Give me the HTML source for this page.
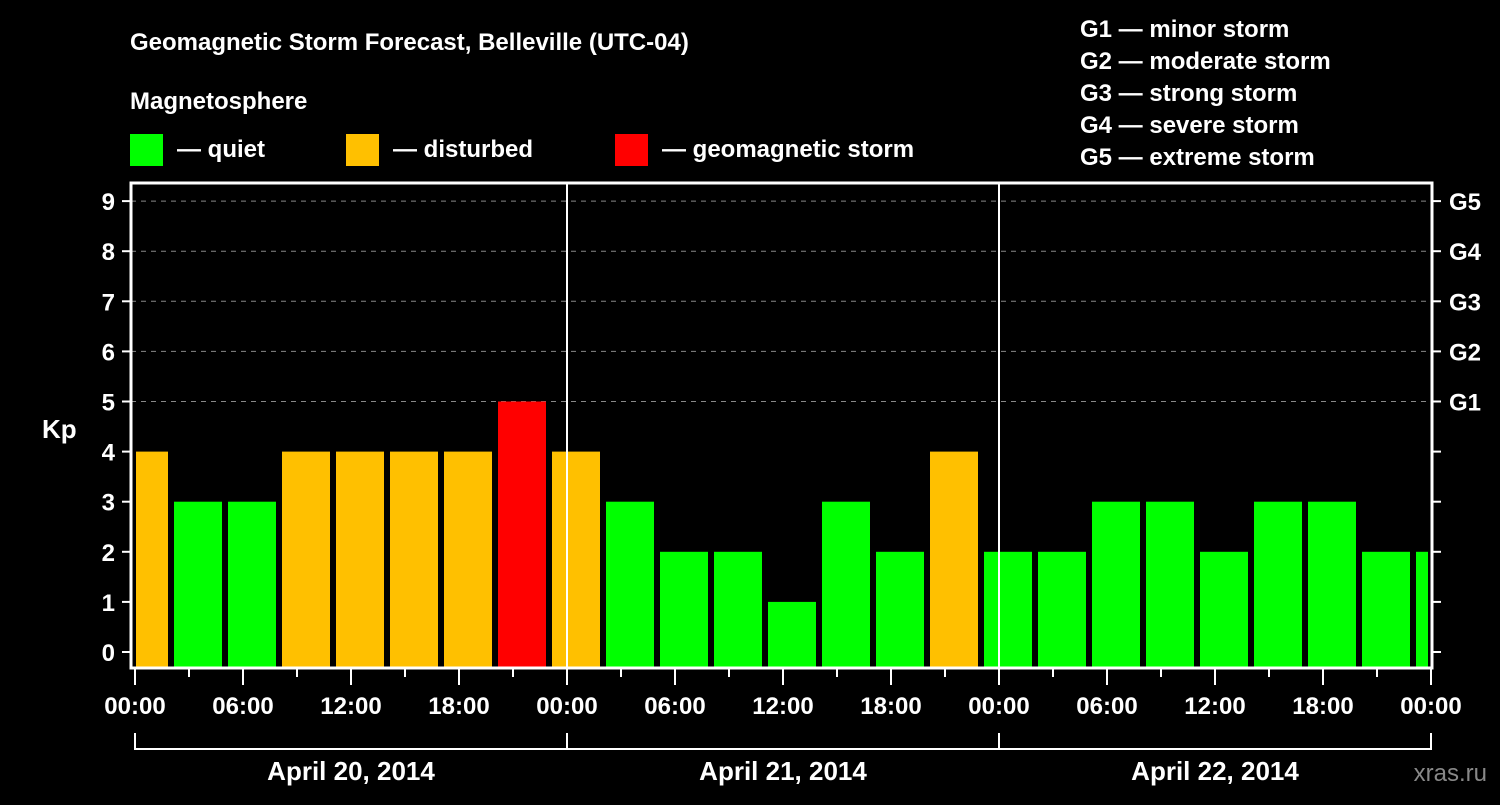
<!DOCTYPE html>
<html><head><meta charset="utf-8"><style>
body{margin:0;background:#000;width:1500px;height:800px;overflow:hidden}
svg text{font-family:"Liberation Sans",sans-serif;font-weight:bold;fill:#fff}
</style></head><body>
<svg id="c" width="1500" height="800" xmlns="http://www.w3.org/2000/svg">
<rect width="1500" height="800" fill="#000"/>
<text x="130" y="50" font-size="24">Geomagnetic Storm Forecast, Belleville (UTC-04)</text>
<text x="130" y="109" font-size="24">Magnetosphere</text>
<g><rect x="130" y="134" width="33" height="32" fill="#00ff00"/><text x="177" y="157" font-size="24">— quiet</text></g>
<g><rect x="346" y="134" width="33" height="32" fill="#ffc000"/><text x="393" y="157" font-size="24">— disturbed</text></g>
<g><rect x="615" y="134" width="33" height="32" fill="#ff0000"/><text x="662" y="157" font-size="24">— geomagnetic storm</text></g>
<g font-size="24">
<text x="1080" y="37">G1 — minor storm</text>
<text x="1080" y="69">G2 — moderate storm</text>
<text x="1080" y="101">G3 — strong storm</text>
<text x="1080" y="133">G4 — severe storm</text>
<text x="1080" y="165">G5 — extreme storm</text>
</g>
<text x="42" y="438" font-size="26">Kp</text>
<text x="1487" y="781" font-size="24" text-anchor="end" style="fill:#888;font-weight:normal">xras.ru</text>
<g id="g"></g>
</svg>
<script>
const values=[4,3,3,4,4,4,4,5, 4,3,2,2,1,3,2,4, 2,2,3,3,2,3,3,2,2];
const yTicks=[0,1,2,3,4,5,6,7,8,9];
const gLabels=["G1","G2","G3","G4","G5"];
const gLevels=[5,6,7,8,9];
const xLabels=["00:00","06:00","12:00","18:00","00:00","06:00","12:00","18:00","00:00","06:00","12:00","18:00","00:00"];
const days=["April 20, 2014","April 21, 2014","April 22, 2014"];
const L=131,R=1432,T=183,B=668;
const x=h=>135+h*18;
const y=v=>652-v*50.1;
const col=v=>v>=5?"#ff0000":v>=4?"#ffc000":"#00ff00";
const g=document.getElementById('g');
const NS="http://www.w3.org/2000/svg";
function mk(t,a){const e=document.createElementNS(NS,t);for(const k in a)e.setAttribute(k,a[k]);g.appendChild(e);return e;}
const defs=mk('clipPath',{id:'clip'});
const cr=document.createElementNS(NS,'rect');cr.setAttribute('x',136);cr.setAttribute('y',T);cr.setAttribute('width',1428-136);cr.setAttribute('height',B-T);defs.appendChild(cr);
gLevels.forEach(v=>{
 const l=mk('line',{x1:L,x2:R,y1:y(v),y2:y(v),stroke:'#888','stroke-dasharray':'5,5','stroke-width':1});
 
 
});
values.forEach((v,i)=>{
 const c=0.5+3*i;
 const r=mk('rect',{x:x(c)-24,y:y(v),width:48,height:667-y(v),fill:col(v),'clip-path':'url(#clip)'});
 
 
});
[1,2].forEach(d=>{
 const l=mk('line',{x1:x(24*d),x2:x(24*d),y1:T,y2:B,stroke:'#fff','stroke-width':2});
 
 
});
const fr=mk('rect',{x:L,y:T,width:R-L,height:B-T,fill:'none',stroke:'#fff','stroke-width':3});


yTicks.forEach(v=>{
 mk('line',{x1:122,x2:L,y1:y(v),y2:y(v),stroke:'#fff','stroke-width':2});
 mk('line',{x1:R,x2:1441,y1:y(v),y2:y(v),stroke:'#fff','stroke-width':2});
 const t=mk('text',{x:115,y:y(v)+9,'font-size':24,'text-anchor':'end'});t.textContent=v;
 
 
});
gLevels.forEach((v,i)=>{
 const t=mk('text',{x:1449,y:y(v)+9,'font-size':24});t.textContent=gLabels[i];
 
 
});
for(let h=0;h<=72;h+=3){
 const major=h%6===0;
 mk('line',{x1:x(h),x2:x(h),y1:B,y2:major?685:677,stroke:'#fff','stroke-width':2});
}
xLabels.forEach((s,i)=>{
 const t=mk('text',{x:x(i*6),y:714,'font-size':24,'text-anchor':'middle'});t.textContent=s;
 
 
});
mk('path',{d:`M${x(0)},733V749H${x(72)}V733M${x(24)},733V749M${x(48)},733V749`,fill:'none',stroke:'#fff','stroke-width':2});
days.forEach((d,i)=>{
 const t=mk('text',{x:x(24*i+12),y:780,'font-size':26,'text-anchor':'middle'});t.textContent=d;
 
 
});
</script>
</body></html>
